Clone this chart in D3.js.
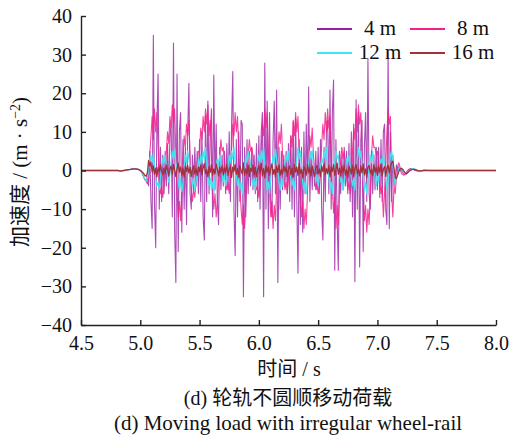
<!DOCTYPE html>
<html>
<head>
<meta charset="utf-8">
<script src="https://cdn.jsdelivr.net/npm/d3@7"></script>
<style>
  body { margin: 0; background: #fff; }
  svg { display: block; }
  text { font-family: "Liberation Serif", "Times New Roman", serif; fill: #111; }
  .cjk { font-family: "Noto Sans CJK SC", sans-serif; }
  .lat { font-family: "Liberation Serif", "Times New Roman", serif; }
</style>
</head>
<body>
<div id="chart"></div>
<script>
// time axis: samples every 0.01 s from 4.80 s, flat (0) before/after
const tStart = 4.5, tEnd = 8.0;
const t0 = 4.8, dt = 0.01;

const xTicks = [4.5, 5.0, 5.5, 6.0, 6.5, 7.0, 7.5, 8.0];
const yTicks = [-40, -30, -20, -10, 0, 10, 20, 30, 40];

const names = ["4 m", "8 m", "12 m", "16 m"];
const colors = ["#9a1ea2", "#f5208c", "#3fe6f2", "#a3303a"];

// 4 m
const acc4 = [
  0,0,-0.05,-0.1,-0.1,-0.05,0,0.05,0.1,0.15,
  0.2,0.25,0.3,0.35,0.4,0.4,0.4,0.35,0.3,0.2,
  0,-0.3,-1,-1.8,-2.4,-2.6,-1.5,-4,5,-8,
  -15,35,-9,-20,12,25,-10,6,-8,4,
  -6,5,-4,7,-6,9,12,-12,33,-16,
  -29,25,-21,10,15,-16,8,-10,6,-14,
  10,22.6,-6,-10,4,-5,6,-4,5,-6,
  8,-8,10,-12,-18,14,-8,18,-6,10,
  16,-12,24.7,-5,12,-8,-14,6,-5,4,
  -4,5,-6,7,-5,10,-8,12,25.6,-10,
  -22,8,-12,10,-8,13,12,-32.7,6,-12,
  8,-6,5,-4,6,-5,4,-6,7,-8,
  9,-10,10,15,-32.7,27.8,-10,18,-15,15,
  -8,-12,8,18,-6,20.8,-29,6,-10,5,
  -5,4,-4,5,-6,7,-8,9,-10,12.6,
  -12,13.6,-8,-26.6,8,-14,6,-16,10,-6,
  12,-4,21.7,-8,5,-5,4,-4,5,-5,
  6,-6,8,-10,-18,6,-8,10,13,-6,
  20.8,-10,15,23.4,-25.8,8,-12,-25.8,5,-6,
  4,-5,6,-4,5,-6,7,-8,10,-12,
  12,-28.8,18.3,-10,15,-25,8,13,-21,6,
  15,-8,29,-6,-10,5,-6,4,-5,6,
  -5,6,-7,8,-8,10,12,-10,-14,30.8,
  -15,10,-8,4,-4,-2,1.5,-1,1,0.5,
  -0.5,-1,-1.2,-1,-0.6,-0.2,0.2,0.4,0.5,0.4,
  0.3,0.1,0,-0.1,-0.15,-0.15,-0.1,-0.05,0,0.05,
  0.05,0.05,0,0,0,0,0,0,0,0
];

// 8 m
const acc8 = [
  0,0,-0.05,-0.1,-0.1,-0.05,0,0.05,0.1,0.15,
  0.2,0.25,0.3,0.35,0.4,0.4,0.4,0.35,0.3,0.2,
  0,-0.3,-0.9,-1.6,-2.4,-2.8,-3.5,-2,4,9,
  14,8,16,10,15,6,-4,-6,-4,-7,
  -4,-2,5,10,7,14,11,17,12,16,
  4,-6,-12,-8,-13,-5,3,9,6,12,
  9,13,4,-5,-8,-5,-7,-3,2,5,
  5,11,8,14,10,16,12,17,9,13,
  4,-5,-10,-6,-12,-8,-3,4,8,5,
  6,2,-3,-5,-3,-6,-1,6,12,9,
  15,10,14,5,-4,-10,-14,-9,-15,-8,
  -3,4,8,5,6,4,1,-3,-5,-4,
  -7,-4,6,12,9,16,11,15,6,-5,
  -12,-8,-15,-9,-13,-4,5,10,7,12,
  4,-2,-5,-3,-6,-2,3,9,6,13,
  9,15,10,14,4,-6,-12,-8,-15,-10,
  -14,-6,3,9,6,11,4,-1,-5,-3,
  -6,-4,0,7,12,8,15,10,16,11,
  14,5,-5,-11,-7,-15,-9,-14,-5,3,
  6,3,5,2,-2,-5,-3,-6,-4,5,
  11,8,16,10,17,12,15,4,-6,-13,
  -9,-16,-10,-14,-5,4,9,6,6,4,
  5,1,-3,-6,-4,-12,-6,2,10,16,
  12,14,-6,-12,-4,-6,-2,1,2,1,
  0.4,-0.3,-0.8,-1.1,-1,-0.7,-0.3,0.1,0.3,0.4,
  0.35,0.3,0.2,0.1,0,-0.1,-0.15,-0.1,-0.05,0,
  0.05,0.05,0.05,0,0,0,0,0,0,0
];

// 12 m
const acc12 = [
  0,0,-0.05,-0.1,-0.1,-0.05,0,0.05,0.1,0.15,
  0.2,0.25,0.3,0.35,0.4,0.4,0.4,0.35,0.3,0.2,
  0,-0.3,-0.9,-1.6,-2.3,-2.7,-2,0.5,3,4,
  2,4.5,1,-2,-4,-3,-5,-2,1,3,
  2,4,1,-1,-3,-1,2,5,3,5.5,
  2,0,-3,-5,-2,-5.5,-3,1,4,2,
  5,3,1,-2,-4,-2,-5,-3,0,3,
  1,4,2,5,3,6,2,-1,-4,-2,
  -5,-3,-6,-2,1,3,1,4,2,-1,
  -3,-1,-4,-2,1,4,2,5,3,6,
  2,-1,-4,-2,-5,-3,-6,-2,1,4,
  2,5,3,1,-2,-4,-2,-5,-1,2,
  4,2,5,3,6,2,-2,-5,-3,-6,
  -2,1,4,2,5.5,3,0,-3,-5,-2,
  -4,-1,2,4,2,5,1,-2,-4,-2,
  -5,-1,3,6,3,5,1,-3,-5,-3,
  -6,-2,2,5,3,5,2,-1,-3,-1,
  -4,-2,1,3,2,5,3,6,1,-2,
  -5,-3,-6,-2,2,5,3,4,0,-3,
  -2,-5,-3,0,3,2,4,1,-2,-4,
  -2,-5,-1,3,6,3,5,2,-2,-5,
  -3,-6,-2,2,4,2,5,1,-2,-4,
  -1,-3,1,3,2,4,1,-2,-5,-3,
  1,4,5,2,-2,-3.5,-2,-1,0.5,0.8,
  0.6,0.2,-0.3,-0.7,-0.9,-0.8,-0.5,-0.1,0.2,0.4,
  0.45,0.4,0.3,0.15,0,-0.1,-0.15,-0.1,-0.05,0,
  0.05,0.05,0.05,0,0,0,0,0,0,0
];

// 16 m
const acc16 = [
  0,0,-0.05,-0.1,-0.1,-0.05,0,0.05,0.1,0.15,
  0.2,0.25,0.3,0.35,0.4,0.4,0.4,0.35,0.3,0.2,
  0,-0.2,-0.5,-0.9,-1.3,-1.5,-0.6,2.6,1.2,2.2,
  -0.4,1.2,-1,0.6,-1.6,0.8,-0.3,1.5,-0.2,-1.1,
  0.6,-0.8,1.4,0.2,-1.4,0.4,1.1,-0.9,1.6,0.1,
  -1.6,0.5,1.9,-0.4,0.9,-1.2,0.6,-1.7,1.1,-0.2,
  1.3,-0.7,0.8,-1.5,0.3,1.2,-0.9,0.5,-1.3,0.9,
  -0.3,1.4,-1.1,0.6,1.8,-0.8,0.2,-1.6,1,-0.5,
  1.5,-1.2,0.4,-0.9,1.7,0.3,-1.4,0.8,-0.6,1.2,
  -1.1,0.7,-0.4,1.5,-1.3,0.2,1.1,-1.8,0.9,-0.2,
  1.6,-1,0.5,-1.7,1.2,0.1,-0.9,2,-1.3,0.4,
  -0.8,1.3,-1.5,0.6,-0.2,1.4,-1.1,0.8,-1.6,0.3,
  1.2,-0.7,1.9,-1.4,0.5,-1.9,1.3,-0.4,0.9,-1.2,
  0.6,1.7,-1,0.3,-1.6,1.1,-0.5,1.5,-1.2,0.2,
  -0.9,1.4,-0.3,0.8,-1.5,0.4,1.2,-1.1,0.6,-1.7,
  1.5,-0.4,0.9,-1.3,1.8,-0.8,0.3,-1.9,1,0.2,
  -1.2,1.6,-0.6,0.7,-1.4,1.1,-0.2,-1.6,0.8,1.3,
  -0.9,0.4,-1.5,1.2,-0.3,1.7,-1.1,0.5,-0.8,1.4,
  -1.6,0.9,-0.2,1.5,-1.3,0.3,1.9,-1,0.6,-1.4,
  1.1,-0.5,1.4,-1.2,0.2,-1.7,1,0.4,-0.9,1.3,
  -1.5,0.6,1.6,-0.8,0.3,-1.4,1.2,-0.6,1.7,-1.1,
  0.4,-1.8,0.9,1.3,-0.7,0.2,-1.3,1.5,-0.4,0.8,
  -1.2,1.1,-0.5,1.6,-1.4,0.3,1,-1.5,0.7,1.4,
  -0.6,1.2,2,2.4,0.5,-1.8,-2.1,-1.2,-0.3,0.4,
  0.6,0.4,0,-0.5,-0.8,-0.7,-0.4,-0.1,0.1,0.2,
  0.3,0.3,0.2,0.1,0,-0.1,-0.1,-0.1,0,0,
  0,0,0,0,0,0,0,0,0,0
];

const seriesValues = [acc4, acc8, acc12, acc16];

const width = 512, height = 437;
const plot = { left: 81, right: 496, top: 16, bottom: 325 };

const svg = d3.select("#chart").append("svg")
  .attr("width", width)
  .attr("height", height);

const x = d3.scaleLinear().domain([tStart, tEnd]).range([plot.left, plot.right]);
const y = d3.scaleLinear().domain([-40, 40]).range([plot.bottom, plot.top]);

const line = d3.line()
  .x(d => x(d[0]))
  .y(d => y(d[1]));

const lineWidths = [1.1, 1.1, 1.3, 1.3];
const lineOpacity = [0.8, 0.85, 0.95, 1];

seriesValues.forEach((vals, k) => {
  const pts = [[tStart, 0]].concat(vals.map((v, i) => [t0 + i * dt, v]), [[tEnd, 0]]);
  svg.append("path")
    .datum(pts)
    .attr("d", line)
    .attr("fill", "none")
    .attr("stroke", colors[k])
    .attr("stroke-width", lineWidths[k])
    .attr("stroke-opacity", lineOpacity[k])
    .attr("stroke-linejoin", "round");
});

// axes
const xAxis = svg.append("g")
  .attr("transform", `translate(0,${plot.bottom})`)
  .call(d3.axisBottom(x).tickValues(xTicks).tickFormat(d3.format(".1f"))
    .tickSizeInner(-5).tickSizeOuter(0).tickPadding(11));

const yAxis = svg.append("g")
  .attr("transform", `translate(${plot.left},0)`)
  .call(d3.axisLeft(y).tickValues(yTicks)
    .tickSizeInner(-5).tickSizeOuter(0).tickPadding(9));

[xAxis, yAxis].forEach(g => {
  g.attr("font-family", "Liberation Serif").attr("font-size", 20);
  g.selectAll("path, line").attr("stroke", "#222").attr("stroke-width", 1.4);
  g.selectAll("text").attr("fill", "#111").attr("class", "lat").style("font-size", "20px");
});

// mixed CJK / Latin text helper
function mixed(sel, parts) {
  parts.forEach(p => {
    const ts = sel.append("tspan").attr("class", p[1]).text(p[0]);
    if (p[2]) ts.attr("dy", p[2]);
    if (p[3]) ts.style("font-size", p[3]);
  });
}

// axis titles
const xTitle = svg.append("text")
  .attr("x", 289).attr("y", 376)
  .attr("text-anchor", "middle")
  .style("font-size", "20px");
mixed(xTitle, [["时间", "cjk"], [" / s", "lat"]]);

const yTitle = svg.append("text")
  .attr("transform", "translate(27,172) rotate(-90)")
  .attr("text-anchor", "middle")
  .style("font-size", "21px");
mixed(yTitle, [["加速度", "cjk"], [" / (m · s", "lat"], ["−2", "lat", -7, "14px"], [")", "lat", 7]]);

// captions
const cap1 = svg.append("text")
  .attr("x", 288).attr("y", 405)
  .attr("text-anchor", "middle")
  .style("font-size", "20px");
mixed(cap1, [["(d) ", "lat"], ["轮轨不圆顺移动荷载", "cjk"]]);

svg.append("text")
  .attr("class", "lat")
  .attr("x", 288).attr("y", 430)
  .attr("text-anchor", "middle")
  .style("font-size", "21px")
  .text("(d) Moving load with irregular wheel-rail");

// legend
const legend = svg.append("g");
names.forEach((name, k) => {
  const col = k % 2, row = Math.floor(k / 2);
  const lx = 317 + col * 93;
  const ly = 29 + row * 24;
  legend.append("line")
    .attr("x1", lx).attr("x2", lx + 35)
    .attr("y1", ly).attr("y2", ly)
    .attr("stroke", colors[k])
    .attr("stroke-width", 2);
  legend.append("text")
    .attr("class", "lat")
    .attr("x", lx + 63).attr("y", ly + 6)
    .attr("text-anchor", "middle")
    .style("font-size", "21px")
    .text(name);
});
</script>
</body>
</html>
